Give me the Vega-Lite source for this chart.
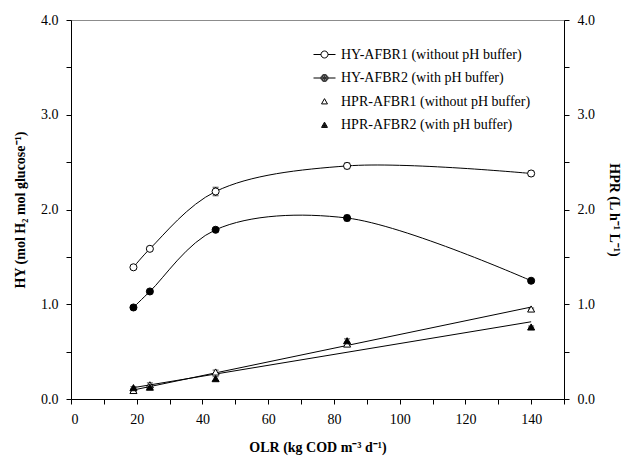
{
  "$schema": "https://vega.github.io/schema/vega-lite/v6.json",
  "width": 493,
  "height": 379,
  "autosize": {"type": "none"},
  "padding": {"left": 71, "top": 20, "right": 58, "bottom": 64},
  "background": "white",
  "config": {
    "view": {"stroke": "#8c8c8c", "strokeWidth": 1},
    "font": "Liberation Serif",
    "axis": {
      "labelFont": "Liberation Serif",
      "labelFontSize": 14,
      "labelColor": "black",
      "titleFont": "Liberation Serif",
      "titleFontSize": 14,
      "titleFontWeight": "bold",
      "titleColor": "black",
      "domainColor": "black",
      "tickColor": "black",
      "grid": false,
      "tickSize": 5,
      "labelPadding": 8
    }
  },
  "datasets": {
    "pts": [
      {"series": "HY-AFBR1 (without pH buffer)", "olr": 19, "v": 1.39, "err": 0.02},
      {"series": "HY-AFBR1 (without pH buffer)", "olr": 24, "v": 1.585, "err": 0.02},
      {"series": "HY-AFBR1 (without pH buffer)", "olr": 44, "v": 2.19, "err": 0.045},
      {"series": "HY-AFBR1 (without pH buffer)", "olr": 84, "v": 2.46, "err": 0.03},
      {"series": "HY-AFBR1 (without pH buffer)", "olr": 140, "v": 2.38, "err": 0.025},
      {"series": "HY-AFBR2 (with pH buffer)", "olr": 19, "v": 0.966, "err": 0.01},
      {"series": "HY-AFBR2 (with pH buffer)", "olr": 24, "v": 1.135, "err": 0.01},
      {"series": "HY-AFBR2 (with pH buffer)", "olr": 44, "v": 1.786, "err": 0.015},
      {"series": "HY-AFBR2 (with pH buffer)", "olr": 84, "v": 1.91, "err": 0.03},
      {"series": "HY-AFBR2 (with pH buffer)", "olr": 140, "v": 1.248, "err": 0.01},
      {"series": "HPR-AFBR1 (without pH buffer)", "olr": 19, "v": 0.09, "err": 0.01},
      {"series": "HPR-AFBR1 (without pH buffer)", "olr": 24, "v": 0.15, "err": 0.02},
      {"series": "HPR-AFBR1 (without pH buffer)", "olr": 44, "v": 0.285, "err": 0.02},
      {"series": "HPR-AFBR1 (without pH buffer)", "olr": 84, "v": 0.58, "err": 0.02},
      {"series": "HPR-AFBR1 (without pH buffer)", "olr": 140, "v": 0.95, "err": 0.01},
      {"series": "HPR-AFBR2 (with pH buffer)", "olr": 19, "v": 0.12, "err": 0.01},
      {"series": "HPR-AFBR2 (with pH buffer)", "olr": 24, "v": 0.125, "err": 0.02},
      {"series": "HPR-AFBR2 (with pH buffer)", "olr": 44, "v": 0.215, "err": 0.02},
      {"series": "HPR-AFBR2 (with pH buffer)", "olr": 84, "v": 0.615, "err": 0.02},
      {"series": "HPR-AFBR2 (with pH buffer)", "olr": 140, "v": 0.76, "err": 0.01}
    ],
    "fits": [
      {"series": "HPR-AFBR1 (without pH buffer)", "olr": 19, "v": 0.095},
      {"series": "HPR-AFBR1 (without pH buffer)", "olr": 140, "v": 0.97},
      {"series": "HPR-AFBR2 (with pH buffer)", "olr": 19, "v": 0.12},
      {"series": "HPR-AFBR2 (with pH buffer)", "olr": 140, "v": 0.815}
    ]
  },
  "encoding": {
    "x": {
      "field": "olr",
      "type": "quantitative",
      "title": "OLR (kg COD m⁻³ d⁻¹)",
      "scale": {"domain": [0, 150], "nice": false},
      "axis": {
        "values": [0, 10, 20, 30, 40, 50, 60, 70, 80, 90, 100, 110, 120, 130, 140, 150],
        "labelExpr": "datum.value % 20 === 0 && datum.value < 150 ? datum.label : ''",
        "titlePadding": 14
      }
    }
  },
  "layer": [
    {
      "data": {"name": "pts"},
      "transform": [{"filter": "indexof(datum.series, 'HY') === 0"}],
      "mark": {"type": "line", "interpolate": "catmull-rom", "color": "black", "strokeWidth": 1},
      "encoding": {
        "y": {
          "field": "v",
          "type": "quantitative",
          "title": "HY (mol H₂ mol glucose⁻¹)",
          "scale": {"domain": [0, 4], "nice": false},
          "axis": {
            "orient": "left",
            "values": [0, 0.5, 1, 1.5, 2, 2.5, 3, 3.5, 4],
            "labelExpr": "datum.value % 1 === 0 ? format(datum.value, '.1f') : ''",
            "titlePadding": 13
          }
        },
        "detail": {"field": "series"}
      }
    },
    {
      "data": {"name": "fits"},
      "mark": {"type": "line", "color": "black", "strokeWidth": 1},
      "encoding": {
        "y": {"field": "v", "type": "quantitative", "axis": null},
        "detail": {"field": "series"}
      }
    },
    {
      "data": {"name": "pts"},
      "transform": [
        {"calculate": "datum.v - datum.err", "as": "lo"},
        {"calculate": "datum.v + datum.err", "as": "hi"}
      ],
      "mark": {"type": "errorbar", "ticks": {"color": "black", "strokeWidth": 1, "size": 6}, "rule": {"color": "black", "strokeWidth": 1}},
      "encoding": {
        "y": {"field": "lo", "type": "quantitative", "axis": null},
        "y2": {"field": "hi"}
      }
    },
    {
      "data": {"name": "pts"},
      "mark": {"type": "point", "filled": true, "stroke": "black", "strokeWidth": 1, "size": 50, "opacity": 1},
      "encoding": {
        "y": {"field": "v", "type": "quantitative", "axis": null},
        "shape": {
          "field": "series",
          "type": "nominal",
          "scale": {
            "domain": ["HY-AFBR1 (without pH buffer)", "HY-AFBR2 (with pH buffer)", "HPR-AFBR1 (without pH buffer)", "HPR-AFBR2 (with pH buffer)"],
            "range": ["circle", "circle", "triangle-up", "triangle-up"]
          },
          "legend": null
        },
        "fill": {
          "field": "series",
          "type": "nominal",
          "scale": {
            "domain": ["HY-AFBR1 (without pH buffer)", "HY-AFBR2 (with pH buffer)", "HPR-AFBR1 (without pH buffer)", "HPR-AFBR2 (with pH buffer)"],
            "range": ["white", "black", "white", "black"]
          },
          "legend": null
        }
      }
    },
    {
      "data": {"name": "pts"},
      "mark": {"type": "point", "filled": true, "fill": "white", "stroke": "black", "strokeWidth": 1, "opacity": 0},
      "encoding": {
        "y": {"field": "v", "type": "quantitative", "axis": null},
        "shape": {
          "field": "series",
          "type": "nominal",
          "scale": {
            "domain": ["HY-AFBR1 (without pH buffer)", "HY-AFBR2 (with pH buffer)", "HPR-AFBR1 (without pH buffer)", "HPR-AFBR2 (with pH buffer)"],
            "range": [
              "M-1,0L-0.318,0M0.318,0L1,0M0.318,0A0.318,0.318,0,1,1,-0.318,0A0.318,0.318,0,1,1,0.318,0Z",
              "M-1,0L-0.318,0M0.318,0L1,0M0.318,0A0.318,0.318,0,1,1,-0.318,0A0.318,0.318,0,1,1,0.318,0ZM0.227,0A0.227,0.227,0,1,1,-0.227,0A0.227,0.227,0,1,1,0.227,0ZM0.136,0A0.136,0.136,0,1,1,-0.136,0A0.136,0.136,0,1,1,0.136,0ZM0.055,0A0.055,0.055,0,1,1,-0.055,0A0.055,0.055,0,1,1,0.055,0Z",
              "M0,-0.26L0.27,0.22L-0.27,0.22Z",
              "M0,-0.26L0.27,0.22L-0.27,0.22ZM0,-0.151L0.178,0.166L-0.178,0.166ZM0,-0.046L0.089,0.113L-0.089,0.113ZM0,0.03L0.03,0.08L-0.03,0.08Z"
            ]
          },
          "legend": {
            "title": null,
            "orient": "none",
            "legendX": 242,
            "legendY": 23,
            "labelFont": "Liberation Serif",
            "labelFontSize": 14,
            "labelColor": "black",
            "labelLimit": 0,
            "labelOffset": 5,
            "symbolSize": 484,
            "symbolStrokeWidth": 1,
            "symbolOpacity": 1,
            "rowPadding": 4.5
          }
        }
      }
    },
    {
      "data": {"name": "pts"},
      "mark": {"type": "point", "opacity": 0},
      "encoding": {
        "y": {
          "field": "v",
          "type": "quantitative",
          "title": "HPR (L h⁻¹ L⁻¹)",
          "axis": {
            "orient": "right",
            "values": [0, 0.5, 1, 1.5, 2, 2.5, 3, 3.5, 4],
            "labelExpr": "datum.value % 1 === 0 ? format(datum.value, '.1f') : ''",
            "titlePadding": 12
          }
        }
      }
    }
  ],
  "resolve": {"axis": {"y": "independent"}, "scale": {"shape": "independent"}}
}
